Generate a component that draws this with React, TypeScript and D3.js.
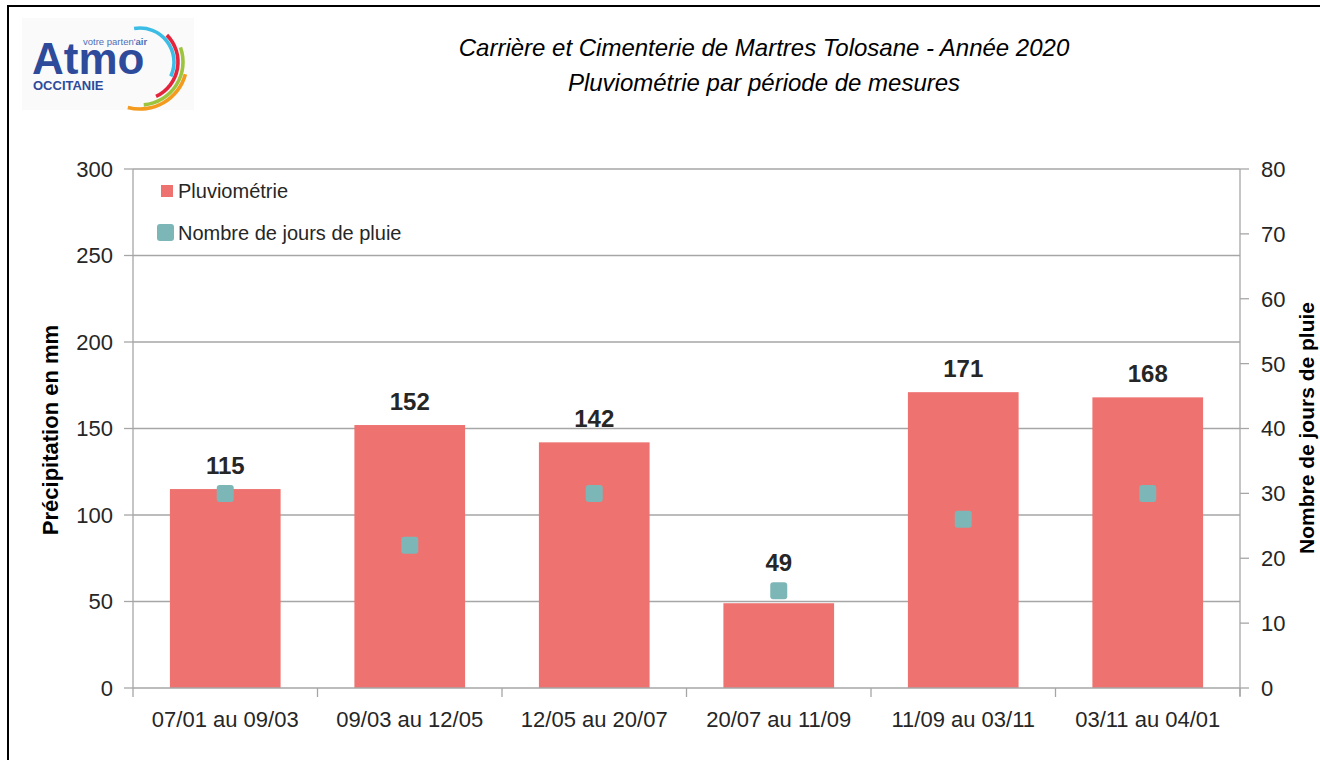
import React, { useEffect } from 'react';
import * as d3 from 'd3';

const periods = ['07/01 au 09/03', '09/03 au 12/05', '12/05 au 20/07', '20/07 au 11/09', '11/09 au 03/11', '03/11 au 04/01'];
const rainfall = [115, 152, 142, 49, 171, 168];
const rainDays = [30, 22, 30, 15, 26, 30];
const leftTicks = [0, 50, 100, 150, 200, 250, 300];
const rightTicks = [0, 10, 20, 30, 40, 50, 60, 70, 80];

const BAR = '#ee7370';
const DOT = '#7db6b6';
const AXIS = '#a6a6a6';
const TXT = '#262626';
const NARROW = '"Liberation Sans Narrow", "Arial Narrow", "Liberation Sans", Arial, sans-serif';
const SANS = '"Liberation Sans", Arial, sans-serif';

const W = 1320;
const H = 760;
const left = 133;
const right = 1240;
const top = 169;
const bottom = 688;

const Logo = () => {
    const arcs = [
        { r: 34, a0: -10, a1: 115, c: '#3cbde6' },
        { r: 38, a0: 45, a1: 155, c: '#e2253d' },
        { r: 43, a0: 70, a1: 175, c: '#9cc43c' },
        { r: 47, a0: 105, a1: 195, c: '#f39a1f' },
    ];
    const rad = Math.PI / 180;
    return (
        <g>
            <rect x={22} y={18} width={172} height={92} fill="#fafafa" />
            {arcs.map((a, i) => {
                const path = d3.arc()({ innerRadius: a.r - 1.8, outerRadius: a.r + 1.8, startAngle: a.a0 * rad, endAngle: a.a1 * rad }) as string;
                return <path key={i} d={path} transform="translate(140,62)" fill={a.c} />;
            })}
            <text x={32} y={74} fontFamily={SANS} fontWeight="bold" fontSize={44} letterSpacing={0} fill="#2e4a9a">Atmo</text>
            <text x={83} y={45} fontFamily={SANS} fontSize={9.5} fill="#4f6fb8">votre parten'<tspan fontWeight="bold">air</tspan></text>
            <text x={33} y={90} fontFamily={SANS} fontWeight="bold" fontSize={13} fill="#2e4a9a">OCCITANIE</text>
        </g>
    );
};

const App = () => {
    useEffect(() => {
        document.body.style.margin = '0';
    }, []);

    const x = d3.scaleBand().domain(periods).range([left, right]).paddingInner(0.4).paddingOuter(0.2);
    const band = (right - left) / periods.length;
    const y = d3.scaleLinear().domain([0, 300]).range([bottom, top]);
    const y2 = d3.scaleLinear().domain([0, 80]).range([bottom, top]);
    const ms = 17;

    return (
        <svg width={W} height={H} style={{ display: 'block', background: '#fff' }}>
            <rect x={8} y={6} width={1400} height={900} fill="none" stroke="#000" strokeWidth={2} />
            <Logo />

            <text x={764} y={56} textAnchor="middle" fontFamily={SANS} fontStyle="italic" fontSize={24} fill="#000">
                Carrière et Cimenterie de Martres Tolosane - Année 2020
            </text>
            <text x={764} y={91} textAnchor="middle" fontFamily={SANS} fontStyle="italic" fontSize={24} fill="#000">
                Pluviométrie par période de mesures
            </text>

            {leftTicks.map(t => (
                <g key={'g' + t}>
                    {t > 0 && <line x1={left} x2={right} y1={y(t)} y2={y(t)} stroke={AXIS} strokeWidth={1.3} />}
                    <line x1={left - 9} x2={left} y1={y(t)} y2={y(t)} stroke={AXIS} strokeWidth={1.3} />
                    <text x={113} y={y(t)} dy="0.36em" textAnchor="end" fontFamily={SANS} fontSize={22} fill={TXT}>{t}</text>
                </g>
            ))}
            {rightTicks.map(t => (
                <g key={'r' + t}>
                    <line x1={right} x2={right + 9} y1={y2(t)} y2={y2(t)} stroke={AXIS} strokeWidth={1.3} />
                    <text x={1261} y={y2(t)} dy="0.36em" fontFamily={SANS} fontSize={22} fill={TXT}>{t}</text>
                </g>
            ))}

            {rainfall.map((v, i) => (
                <rect key={'b' + i} x={x(periods[i])} y={y(v)} width={x.bandwidth()} height={bottom - y(v)} fill={BAR} />
            ))}

            <line x1={left} x2={left} y1={top} y2={bottom} stroke={AXIS} strokeWidth={1.3} />
            <line x1={right} x2={right} y1={top} y2={bottom + 8} stroke={AXIS} strokeWidth={1.3} />
            <line x1={left} x2={right} y1={bottom} y2={bottom} stroke={AXIS} strokeWidth={1.3} />
            {d3.range(periods.length + 1).map(i => (
                <line key={'xt' + i} x1={left + band * i} x2={left + band * i} y1={bottom} y2={bottom + 9} stroke={AXIS} strokeWidth={1.3} />
            ))}

            {rainDays.map((d, i) => {
                const cx = (x(periods[i]) as number) + x.bandwidth() / 2;
                return <rect key={'m' + i} x={cx - ms / 2} y={y2(d) - ms / 2} width={ms} height={ms} rx={3} fill={DOT} />;
            })}

            {rainfall.map((v, i) => {
                const cx = (x(periods[i]) as number) + x.bandwidth() / 2;
                const ly = Math.min(y(v) - 15, y2(rainDays[i]) - ms / 2 - 11);
                return (
                    <text key={'l' + i} x={cx} y={ly} textAnchor="middle" fontFamily={NARROW} fontWeight="bold" fontSize={24} fill={TXT}>{v}</text>
                );
            })}

            {periods.map((p, i) => (
                <text key={'x' + i} x={(x(p) as number) + x.bandwidth() / 2} y={727} textAnchor="middle" fontFamily={SANS} fontSize={22} fill={TXT}>{p}</text>
            ))}

            <text transform="translate(58,430) rotate(-90)" textAnchor="middle" fontFamily={NARROW} fontWeight="bold" fontSize={22} fill="#000">
                Précipitation en mm
            </text>
            <text transform="translate(1314,428) rotate(-90)" textAnchor="middle" fontFamily={NARROW} fontWeight="bold" fontSize={21} fill="#000">
                Nombre de jours de pluie
            </text>

            <rect x={161} y={185} width={12} height={12} fill={BAR} />
            <text x={178} y={198} fontFamily={SANS} fontSize={20} fill={TXT}>Pluviométrie</text>
            <rect x={157} y={224} width={17} height={17} rx={3} fill={DOT} />
            <text x={178} y={240} fontFamily={SANS} fontSize={20} fill={TXT}>Nombre de jours de pluie</text>
        </svg>
    );
};

export default App;
